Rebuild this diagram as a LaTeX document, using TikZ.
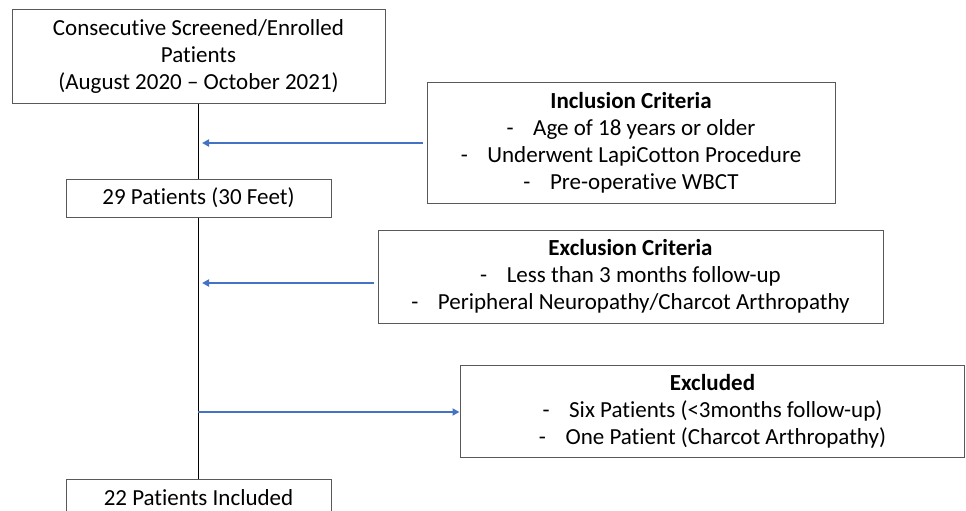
\documentclass[tikz,border=0pt]{standalone}
\usepackage{fontspec}
\setmainfont{Carlito}[Ligatures={NoCommon}]
\usetikzlibrary{arrows.meta}
\definecolor{arrowblue}{HTML}{4472C4}
\definecolor{boxgray}{HTML}{595959}
\newcommand{\itemdash}{-\hspace{0.85em}}
\begin{document}
\begin{tikzpicture}[x=1pt,y=-1pt,
  box/.style={draw=boxgray, line width=1pt, inner sep=0pt, align=center,
    font=\fontsize{23}{27}\selectfont},
  link/.style={line width=1.2pt, draw=black},
  side/.style={line width=2pt, draw=arrowblue, shorten <=4pt, shorten >=4pt,
    -{Triangle[length=7pt,width=7pt]}}]
\useasboundingbox (0,0) rectangle (966,511);
\clip (0,0) rectangle (966,511);
\node[box, minimum width=373pt, minimum height=93pt] (top) at (198.5,56.5)
  {Consecutive Screened/Enrolled\\Patients\\(August 2020 – October 2021)};
\node[box, minimum width=265pt, minimum height=38pt] (p29) at (198.5,198)
  {29 Patients (30 Feet)};
\node[box, minimum width=265pt, minimum height=38pt] (incl) at (198.5,498)
  {22 Patients Included};
\node[box, minimum width=408pt, minimum height=121pt] (inc) at (631,143)
  {\textbf{Inclusion Criteria}\\
   \itemdash Age of 18 years or older\\
   \itemdash Underwent LapiCotton Procedure\\
   \itemdash Pre-operative WBCT};
\node[box, minimum width=505pt, minimum height=93pt] (exc) at (630.5,276.5)
  {\textbf{Exclusion Criteria}\\
   \itemdash Less than 3 months follow-up\\
   \itemdash Peripheral Neuropathy/Charcot Arthropathy};
\node[box, minimum width=504pt, minimum height=92pt] (excl) at (712.5,411)
  {\textbf{Excluded}\\
   \itemdash Six Patients (<3months follow-up)\\
   \itemdash One Patient (Charcot Arthropathy)};
\coordinate (j1) at (198,143);
\coordinate (j2) at (198,283);
\coordinate (j3) at (198,412);
\draw[link] (top.south) -- (p29.north);
\draw[link] (p29.south) -- (incl.north);
\draw[side] (inc.west |- j1) -- (j1);
\draw[side] (exc.west |- j2) -- (j2);
\draw[side, shorten <=0pt, shorten >=0.5pt] (j3) -- (excl.west |- j3);
\end{tikzpicture}
\end{document}
